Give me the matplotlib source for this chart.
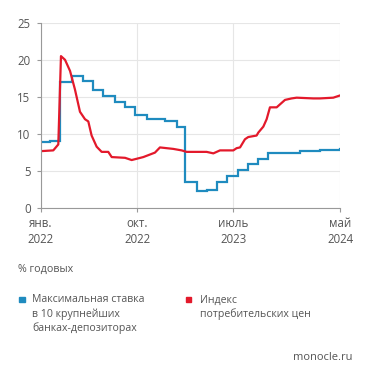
import matplotlib
matplotlib.use("Agg")
import matplotlib.pyplot as plt
from matplotlib.patches import Rectangle

plt.rcParams['font.family'] = ['Open Sans', 'DejaVu Sans']

# months since Jan 2022
deposit_months = [0, 0.84, 1.78, 2.87, 3.96, 4.9, 5.84, 6.93, 7.87, 8.8, 9.9, 11.6, 12.7,
                  13.48, 14.58, 15.5, 16.45, 17.38, 18.48, 19.41, 20.35, 21.29, 22.38,
                  24.25, 26.12, 27.4, 28]
deposit_rate = [8.9, 9.1, 17.0, 17.8, 17.1, 15.9, 15.1, 14.3, 13.6, 12.6, 12.0, 11.8, 11.0,
                3.5, 2.3, 2.5, 3.5, 4.3, 5.1, 6.0, 6.7, 7.5, 7.4,
                7.7, 7.8, 7.9, 8.0]

cpi_months = [0, 1.15, 1.62, 1.87, 2.25, 2.72, 3.18, 3.65, 4.12, 4.43, 4.74, 5.21, 5.68, 6.3,
              6.62, 7.87, 8.49, 9.58, 10.67, 11.14, 12.39, 13.17, 13.64, 15.51, 16.14, 16.76,
              18.01, 18.32, 18.64, 19.1, 19.41, 20.19, 20.35, 20.82, 21.13, 21.44, 22.07,
              22.38, 22.85, 23.47, 23.94, 25.5, 26.12, 27.37, 28]
cpi = [7.7, 7.8, 8.6, 20.5, 20.0, 18.5, 16.0, 13.0, 12.0, 11.7, 9.8, 8.3, 7.6, 7.6,
       6.9, 6.8, 6.5, 6.9, 7.5, 8.2, 8.0, 7.8, 7.6, 7.6, 7.4, 7.8,
       7.8, 8.1, 8.2, 9.3, 9.6, 9.8, 10.2, 11.0, 12.0, 13.6, 13.6,
       14.0, 14.6, 14.8, 14.9, 14.8, 14.8, 14.9, 15.2]

x_ticks = [0, 9, 18, 28]
x_labels = ['янв.\n2022', 'окт.\n2022', 'июль\n2023', 'май\n2024']
y_ticks = [0, 5, 10, 15, 20, 25]

BLUE = '#1f8bbf'
RED = '#e3192b'
TXT = '#555555'
GRID = '#e6e6e6'

fig = plt.figure(figsize=(3.71, 3.80), dpi=100)
ax = fig.add_axes([41/371, 171.7/380, 299/371, 185.6/380])

ax.plot(deposit_months, deposit_rate, color=BLUE, lw=1.6, drawstyle='steps-post',
        solid_joinstyle='miter')
ax.plot(cpi_months, cpi, color=RED, lw=1.6, solid_joinstyle='round')

ax.set_xlim(0, 28)
ax.set_ylim(0, 25)
ax.set_xticks(x_ticks)
ax.set_xticklabels(x_labels, color=TXT, fontsize=8.3, linespacing=1.35)
ax.set_yticks(y_ticks)
ax.set_yticklabels([str(v) for v in y_ticks], color=TXT, fontsize=8.3)
ax.tick_params(axis='x', length=3, width=0.8, color='#999999', pad=3)
ax.tick_params(axis='y', length=3, width=0.8, color='#999999', pad=4.5)
ax.grid(True, color=GRID, lw=0.8)
ax.set_axisbelow(True)
for s in ['top', 'right']:
    ax.spines[s].set_visible(False)
for s in ['left', 'bottom']:
    ax.spines[s].set_color('#999999')
    ax.spines[s].set_linewidth(0.8)

fig.text(18/371, 1 - 269/380, '% годовых', color=TXT, fontsize=7.7, va='center')

fig.patches.append(Rectangle((19/371, 1 - 302/380), 5.5/371, 5.5/380, transform=fig.transFigure,
                             color=BLUE))
fig.text(32/371, 1 - 294.5/380, 'Максимальная ставка\nв 10 крупнейших\nбанках-депозиторах',
         color=TXT, fontsize=7.6, va='top', linespacing=1.32, ha='left')
fig.patches.append(Rectangle((185.5/371, 1 - 302/380), 5.5/371, 5.5/380, transform=fig.transFigure,
                             color=RED))
fig.text(200/371, 1 - 294.5/380, 'Индекс\nпотребительских цен',
         color=TXT, fontsize=7.6, va='top', linespacing=1.32, ha='left')

fig.text(352/371, 1 - 357/380, 'monocle.ru', color=TXT, fontsize=8, ha='right', va='center')

fig.savefig('out.png', dpi=100)
